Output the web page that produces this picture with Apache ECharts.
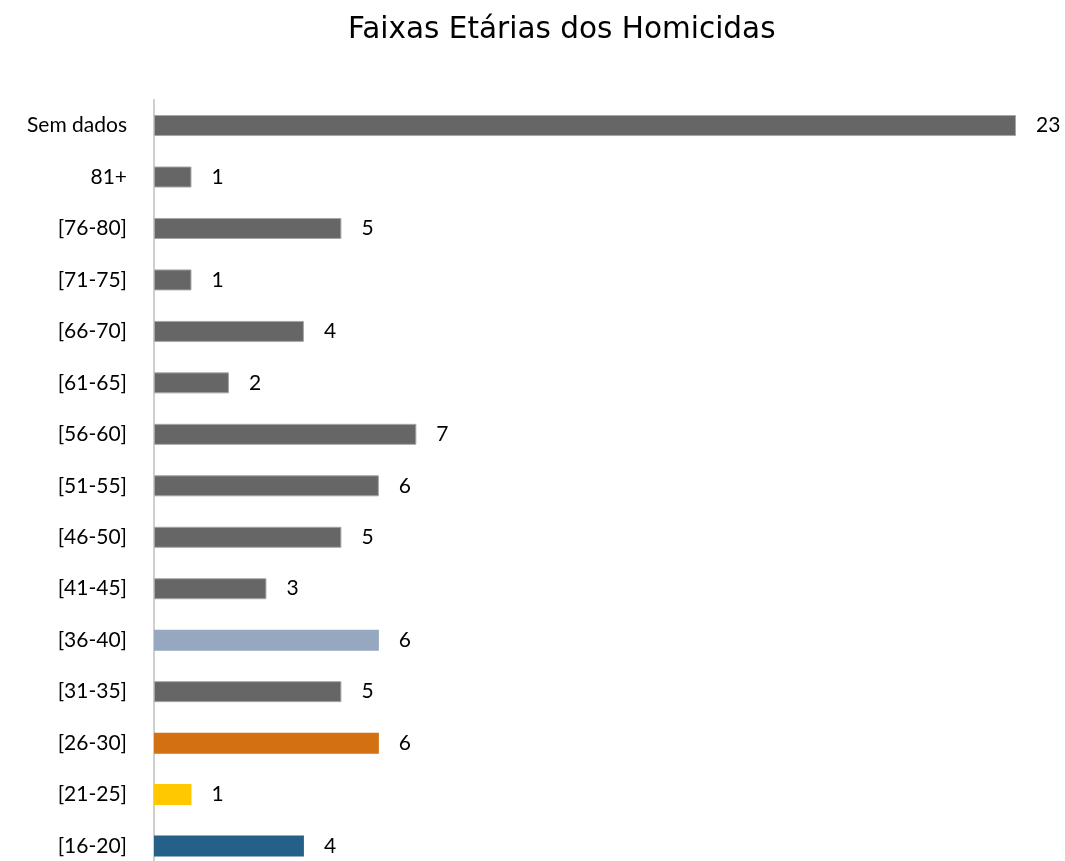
<!DOCTYPE html>
<html>
<head>
<meta charset="utf-8">
<script src="https://cdn.jsdelivr.net/npm/echarts@6/dist/echarts.min.js"></script>
<style>
html,body{margin:0;padding:0;background:#fff;}
#chart{width:1065px;height:861px;}
</style>
</head>
<body>
<div id="chart"></div>
<script>
const categories = ['[16-20]','[21-25]','[26-30]','[31-35]','[36-40]','[41-45]','[46-50]','[51-55]','[56-60]','[61-65]','[66-70]','[71-75]','[76-80]','81+','Sem dados'];
const values = [4,1,6,5,6,3,5,6,7,2,4,1,5,1,23];
const title = 'Faixas Etárias dos Homicidas';

const GRAY = '#666666';
const barColors = ['#256089','#FFC800','#D27012',GRAY,'#95A8BF',GRAY,GRAY,GRAY,GRAY,GRAY,GRAY,GRAY,GRAY,GRAY,GRAY];

const chart = echarts.init(document.getElementById('chart'), null, {renderer:'canvas'});
chart.setOption({
  animation:false,
  backgroundColor:'#fff',
  title:{
    text:title, left:343, top:10,
    textStyle:{fontFamily:'DejaVu Sans', fontWeight:'normal', fontSize:29.5, color:'#000'}
  },
  grid:{left:154, top:99.8, width:862, height:772, outerBoundsMode:'none', containLabel:false},
  xAxis:{
    type:'value', min:0, max:23,
    show:false
  },
  yAxis:{
    type:'category', data:categories,
    axisLine:{show:true, lineStyle:{color:'#BFBFBF', width:1.5}},
    axisTick:{show:false},
    axisLabel:{margin:27, fontFamily:'Lato', fontSize:21, color:'#000'}
  },
  series:[{
    type:'bar',
    barWidth:21,
    data: values.map((v,i)=>({
      value:v,
      itemStyle:{color:barColors[i], borderColor: barColors[i]===GRAY ? '#A6A6A6' : barColors[i], borderWidth: barColors[i]===GRAY ? 1 : 0}
    })),
    label:{show:true, position:'right', distance:20, fontFamily:'Lato', fontSize:21, color:'#000'}
  }]
});
</script>
</body>
</html>
